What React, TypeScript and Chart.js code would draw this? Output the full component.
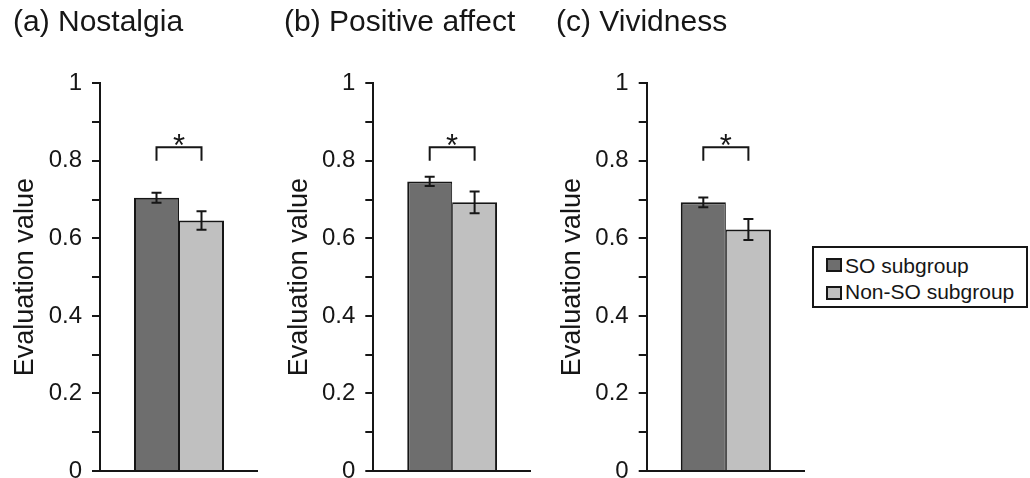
import React, { useEffect, useRef } from 'react';
import { Chart, registerables } from 'chart.js';

Chart.register(...registerables);

// ---- data ----
const panelTitles = ['(a) Nostalgia', '(b) Positive affect', '(c) Vividness'];
const seriesLabels = ['SO subgroup', 'Non-SO subgroup'];
const soMeans = [0.705, 0.747, 0.693];
const soErrors = [0.013, 0.012, 0.0125];
const nonSoMeans = [0.646, 0.693, 0.623];
const nonSoErrors = [0.024, 0.028, 0.027];
const bracketTops = [0.835, 0.835, 0.835];
const bracketLegs = [0.8, 0.8, 0.8];
const significance = ['*', '*', '*'];
const yAxisTitle = 'Evaluation value';
const yMin = 0;
const yMax = 1;
const yStep = 0.1;

// ---- style / layout ----
const FONT = "'Liberation Sans', Arial, Helvetica, sans-serif";
const INK = '#161616';
const DARK = '#6e6e6e';
const LIGHT = '#c0c0c0';
const layouts = [
  { left: 13, axis: 100 },
  { left: 284, axis: 373.3 },
  { left: 556, axis: 646.7 },
];
const PLOT_W = 158;
const CANVAS_H = 500;
const AREA_TOP = 83.3;
const AREA_BOTTOM = 471;
const TITLE_SIZE = 30;
const TITLE_PAD_TOP = 5;

Chart.defaults.font.family = FONT;

function Panel({ index }: { index: number }) {
  const ref = useRef<HTMLCanvasElement | null>(null);
  const L = layouts[index];
  const width = Math.round(L.axis + PLOT_W - L.left);

  useEffect(() => {
    if (!ref.current) return;
    const overlay = {
      id: 'errorsAndBracket',
      afterDatasetsDraw(chart: any) {
        const ctx = chart.ctx;
        const y = chart.scales.y;
        const means = [soMeans[index], nonSoMeans[index]];
        const errs = [soErrors[index], nonSoErrors[index]];
        const xs = [0, 1].map((i) => chart.getDatasetMeta(i).data[0].x);
        ctx.save();
        ctx.strokeStyle = INK;
        ctx.lineWidth = 2;
        ctx.lineCap = 'butt';
        ctx.lineJoin = 'miter';
        for (let i = 0; i < 2; i++) {
          const x = xs[i];
          const t = y.getPixelForValue(means[i] + errs[i]);
          const b = y.getPixelForValue(means[i] - errs[i]);
          ctx.beginPath();
          ctx.moveTo(x, t);
          ctx.lineTo(x, b);
          ctx.moveTo(x - 5, t);
          ctx.lineTo(x + 5, t);
          ctx.moveTo(x - 5, b);
          ctx.lineTo(x + 5, b);
          ctx.stroke();
        }
        const bt = y.getPixelForValue(bracketTops[index]);
        const bl = y.getPixelForValue(bracketLegs[index]);
        ctx.beginPath();
        ctx.moveTo(xs[0], bl);
        ctx.lineTo(xs[0], bt);
        ctx.lineTo(xs[1], bt);
        ctx.lineTo(xs[1], bl);
        ctx.stroke();
        ctx.fillStyle = INK;
        ctx.font = `31px ${FONT}`;
        ctx.textAlign = 'center';
        ctx.textBaseline = 'alphabetic';
        ctx.fillText(significance[index], (xs[0] + xs[1]) / 2, bt + 8.5);
        ctx.restore();
      },
    };

    const yTitlePad = L.axis - 74 - L.left - 13.5;

    const chart = new Chart(ref.current, {
      type: 'bar',
      data: {
        labels: [''],
        datasets: [
          {
            label: seriesLabels[0],
            data: [soMeans[index]],
            backgroundColor: DARK,
            borderColor: INK,
            borderWidth: { top: 2, left: 2, right: 1, bottom: 0 },
            borderSkipped: false,
            barPercentage: 1,
            categoryPercentage: 90 / PLOT_W,
          },
          {
            label: seriesLabels[1],
            data: [nonSoMeans[index]],
            backgroundColor: LIGHT,
            borderColor: INK,
            borderWidth: { top: 2, left: 1, right: 2, bottom: 0 },
            borderSkipped: false,
            barPercentage: 1,
            categoryPercentage: 90 / PLOT_W,
          },
        ],
      },
      options: {
        responsive: false,
        maintainAspectRatio: false,
        animation: false,
        layout: { padding: 0 },
        plugins: {
          legend: { display: false },
          tooltip: { enabled: false },
          title: {
            display: true,
            text: panelTitles[index],
            align: 'start',
            color: INK,
            font: { size: TITLE_SIZE, weight: 'normal', family: FONT, lineHeight: 1.2 },
            padding: {
              top: TITLE_PAD_TOP,
              bottom: AREA_TOP - TITLE_SIZE * 1.2 - TITLE_PAD_TOP,
            },
          },
        },
        scales: {
          x: {
            type: 'category',
            grid: { display: false },
            ticks: { display: false },
            border: { display: true, color: INK, width: 2 },
            afterFit: (s: any) => {
              s.height = CANVAS_H - AREA_BOTTOM;
            },
          },
          y: {
            min: yMin,
            max: yMax,
            grid: {
              display: true,
              drawOnChartArea: false,
              drawTicks: true,
              tickLength: 8,
              color: INK,
              lineWidth: 2,
            },
            border: { display: true, color: INK, width: 2 },
            ticks: {
              stepSize: yStep,
              autoSkip: false,
              padding: 10,
              color: INK,
              font: { size: 24, family: FONT },
              callback: (v: any) => {
                const t = Math.round(Number(v) * 10);
                if (t % 2 !== 0) return '';
                if (t === 0) return '0';
                if (t === 10) return '1';
                return (t / 10).toFixed(1);
              },
            },
            title: {
              display: true,
              text: yAxisTitle,
              color: INK,
              font: { size: 27, family: FONT, lineHeight: 1 },
              padding: { top: yTitlePad, bottom: 0 },
            },
            afterFit: (s: any) => {
              s.width = L.axis - L.left;
            },
          },
        },
      },
      plugins: [overlay],
    } as any);
    return () => chart.destroy();
  }, []);

  return (
    <canvas
      ref={ref}
      width={width}
      height={CANVAS_H}
      style={{ position: 'absolute', left: L.left, top: 0, width, height: CANVAS_H }}
    />
  );
}

function Legend() {
  const swatch = (color: string, top: number) => (
    <div
      style={{
        position: 'absolute',
        left: 12,
        top,
        width: 16,
        height: 14,
        boxSizing: 'border-box',
        border: `2px solid ${INK}`,
        background: color,
      }}
    />
  );
  const label = (text: string, top: number) => (
    <div
      style={{
        position: 'absolute',
        left: 31,
        top,
        fontSize: 21,
        lineHeight: '26px',
        whiteSpace: 'nowrap',
        color: INK,
        fontFamily: FONT,
      }}
    >
      {text}
    </div>
  );
  return (
    <div
      style={{
        position: 'absolute',
        left: 812,
        top: 246,
        width: 216,
        height: 62,
        boxSizing: 'border-box',
        border: `2px solid ${INK}`,
        background: '#fff',
      }}
    >
      {swatch(DARK, 10)}
      {label(seriesLabels[0], 4.7)}
      {swatch(LIGHT, 37.5)}
      {label(seriesLabels[1], 31.2)}
    </div>
  );
}

export default function App() {
  return (
    <div
      style={{
        position: 'fixed',
        left: 0,
        top: 0,
        width: 1030,
        height: 478,
        overflow: 'hidden',
        background: '#fff',
      }}
    >
      {panelTitles.map((_, i) => (
        <Panel key={i} index={i} />
      ))}
      <Legend />
    </div>
  );
}
